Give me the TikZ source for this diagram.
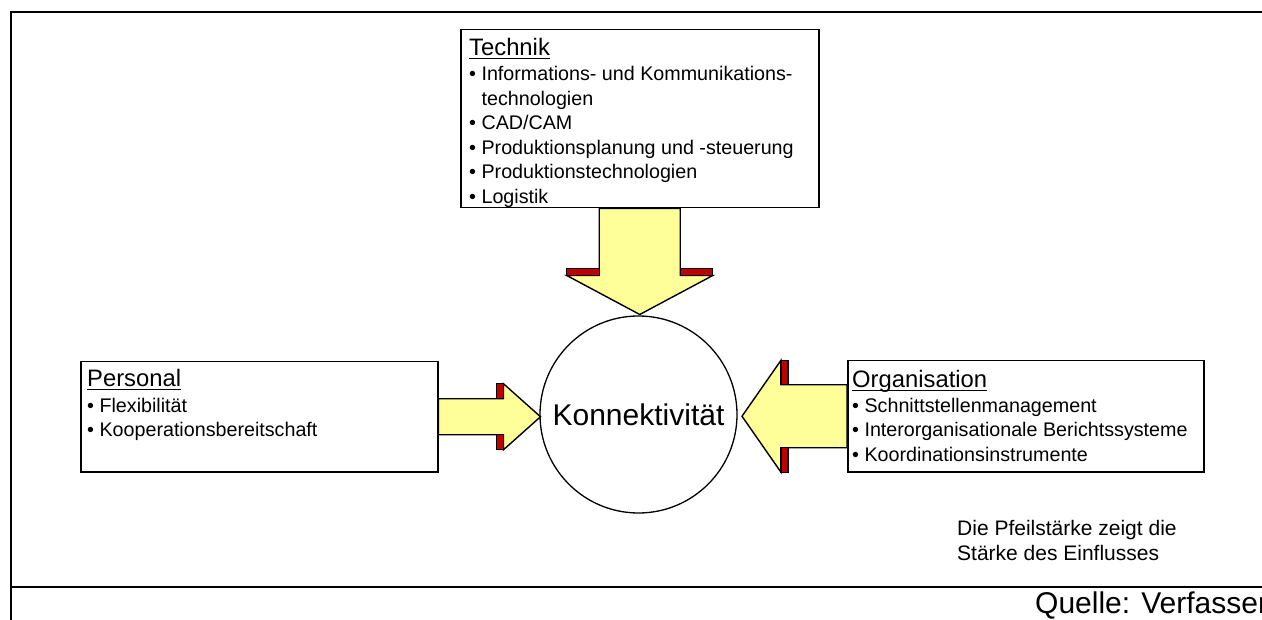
\documentclass[tikz,border=0pt]{standalone}
\usepackage{fontspec}
\setmainfont{Liberation Sans}
\usetikzlibrary{calc}

\definecolor{arrowfill}{RGB}{255,255,153}
\definecolor{shoulder}{RGB}{192,0,0}

% underline drawn just below the baseline
\newcommand\titleline[1]{\setbox0\hbox{#1}\rlap{\rule[-3.2pt]{\wd0}{1.4pt}}#1}
% block arrow: #1 base point, #2 angle, #3 shaft length, #4 half shaft width,
% #5 half head width, #6 head length; shoulder bars are 7 units thick
\newcommand\blockarrow[6]{%
  \begin{scope}[shift={#1}, rotate=#2]
    \draw[arrowline, fill=arrowfill]
      (0,-#4) -- (#3+7,-#4) -- (#3+7,-#5) -- (#3+7+#6,0)
      -- (#3+7,#5) -- (#3+7,#4) -- (0,#4) -- cycle;
    \draw[arrowline, fill=shoulder] (#3,#4) rectangle (#3+7,#5);
    \draw[arrowline, fill=shoulder] (#3,-#4) rectangle (#3+7,-#5);
  \end{scope}}

\tikzset{
  box/.style={draw, line width=1.5pt, rectangle, inner sep=0pt, anchor=north west},
  arrowline/.style={line width=1.4pt, line join=miter},
  frameline/.style={line width=2pt},
  % multi-line texts are placed by the baseline of their last line
  bodytext/.style={inner sep=0pt, anchor=base west, align=left,
    font=\fontsize{19.7}{24.5}\selectfont},
  titletext/.style={inner sep=0pt, anchor=base west,
    font=\fontsize{23.8}{28}\selectfont},
}

\begin{document}
\begin{tikzpicture}[x=1pt, y=-1pt]
  \useasboundingbox (0,0) rectangle (1262,620);

  % outer frame and footer rule
  \draw[frameline] (1262,12) -- (11,12) -- (11,620);
  \draw[frameline] (11,587) -- (1262,587);

  % the three boxes and the centre circle
  \node[box, minimum width=358pt, minimum height=178pt] (technik) at (460,29) {};
  \node[box, minimum width=357pt, minimum height=110pt] (personal) at (80,361) {};
  \node[box, minimum width=356pt, minimum height=111pt] (organisation) at (847,360) {};
  \node[draw, circle, line width=1.3pt, minimum size=197pt, inner sep=0pt] (konn) at (638.5,414.5) {};

  % box texts
  \node[titletext] (technikT) at (469,56) {\titleline{Technik}};
  \node[bodytext] (technikL) at (469,203.5) {%
    • Informations- und Kommunikations-\\
    \phantom{• }technologien\\
    • CAD/CAM\\
    • Produktionsplanung und -steuerung\\
    • Produktionstechnologien\\
    • Logistik};
  \node[titletext] (personalT) at (87,387) {\titleline{Personal}};
  \node[bodytext] (personalL) at (87,437) {%
    • Flexibilität\\
    • Kooperationsbereitschaft};
  \node[titletext] (organisationT) at (852,388) {\titleline{Organisation}};
  \node[bodytext] (organisationL) at (852,461) {%
    • Schnittstellenmanagement\\
    • Interorganisationale Berichtssysteme\\
    • Koordinationsinstrumente};

  \node[font=\fontsize{30}{36}\selectfont, inner sep=0pt] (konnT) at (konn.center) {Konnektivität};

  % influence arrows, thickness shows strength
  \blockarrow{(technik.south)}{-90}{60}{40.5}{73}{39}
  \blockarrow{(personal.east)}{0}{58}{18}{33}{37}
  \blockarrow{(organisation.west)}{180}{59}{31.5}{56}{39}

  % note and source
  \node[inner sep=0pt, anchor=base west, align=left,
        font=\fontsize{21}{25}\selectfont] (note) at (957,560)
    {Die Pfeilstärke zeigt die\\Stärke des Einflusses};
  \node[inner sep=0pt, anchor=base west, font=\fontsize{30}{36}\selectfont]
    (source) at (1035,613) {Quelle: Verfasser};
\end{tikzpicture}
\end{document}
